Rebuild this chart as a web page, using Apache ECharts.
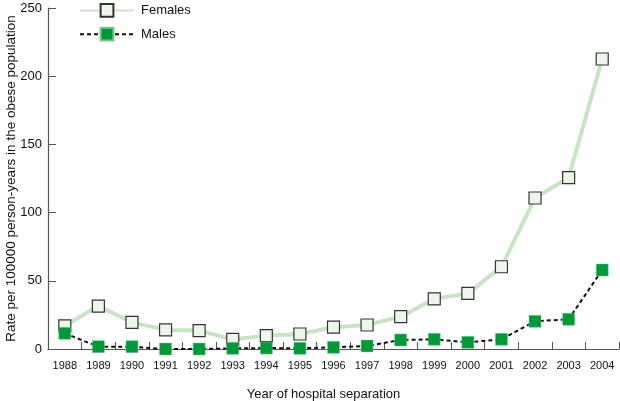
<!DOCTYPE html>
<html><head><meta charset="utf-8">
<script src="https://cdn.jsdelivr.net/npm/echarts@6/dist/echarts.min.js"></script>
<style>html,body{margin:0;padding:0;background:#fff}#c{width:620px;height:401px}</style>
</head><body><div id="c"></div>
<script>
const years = ['1988','1989','1990','1991','1992','1993','1994','1995','1996','1997','1998','1999','2000','2001','2002','2003','2004'];
const females = [17, 31.5, 19.5, 14, 13.5, 7, 9.8, 11, 16, 17.6, 23.7, 36.7, 40.8, 60.3, 110.7, 125.6, 212.6];
const males = [11.5, 1.7, 1.7, 0, 0, 0.5, 0.7, 0.5, 1.2, 2.2, 6.6, 7.1, 4.9, 7.1, 20.3, 21.8, 57.9];
const yTicks = [0, 50, 100, 150, 200, 250];

const chart = echarts.init(document.getElementById('c'));
const axisColor = '#555';
chart.setOption({
  animation: false,
  grid: {left: 48, right: 1, top: 8, bottom: 52, outerBoundsMode: 'none', containLabel: false},
  legend: {
    left: 79, top: 3, padding: 0, orient: 'vertical', itemWidth: 54, itemHeight: 16, itemGap: 9,
    textStyle: {fontFamily: 'Liberation Sans', fontSize: 13, color: '#111', padding: [2,0,0,2]},
    data: ['Females', 'Males']
  },
  xAxis: {
    type: 'category', data: years, boundaryGap: true,
    name: 'Year of hospital separation', nameLocation: 'middle', nameGap: 39, nameMoveOverlap: false,
    nameTextStyle: {fontFamily: 'Liberation Sans', fontSize: 13, color: '#111', padding: [0, 20, 0, 0]},
    axisLine: {show: true, lineStyle: {color: axisColor, width: 1.2}},
    axisTick: {show: true, inside: true, length: 7, lineStyle: {color: axisColor, width: 1}},
    axisLabel: {fontFamily: 'Liberation Sans', fontSize: 11, color: '#111', margin: 11}
  },
  yAxis: {
    type: 'value', min: yTicks[0], max: yTicks[yTicks.length-1], interval: 50,
    name: 'Rate per 100000 person-years in the obese population', nameLocation: 'middle', nameGap: 30, nameMoveOverlap: false,
    nameTextStyle: {fontFamily: 'Liberation Sans', fontSize: 13.5, color: '#111'},
    axisLine: {show: true, lineStyle: {color: axisColor, width: 1.2}},
    axisTick: {show: true, inside: true, length: 8, lineStyle: {color: axisColor, width: 1}},
    splitLine: {show: false},
    axisLabel: {fontFamily: 'Liberation Sans', fontSize: 13, color: '#111', margin: 6}
  },
  series: [
    {
      name: 'Females', type: 'line', data: females,
      symbol: 'rect', symbolSize: 12,
      lineStyle: {color: '#c9e4c5', width: 4},
      itemStyle: {color: '#eef6ec', borderColor: '#333', borderWidth: 1.2},
      z: 2
    },
    {
      name: 'Males', type: 'line', data: males,
      symbol: 'rect', symbolSize: 12,
      lineStyle: {color: '#111', width: 2, type: [4, 3]},
      itemStyle: {color: '#00993a', borderColor: '#7cc68a', borderWidth: 0.5},
      z: 3
    }
  ]
});
</script></body></html>
